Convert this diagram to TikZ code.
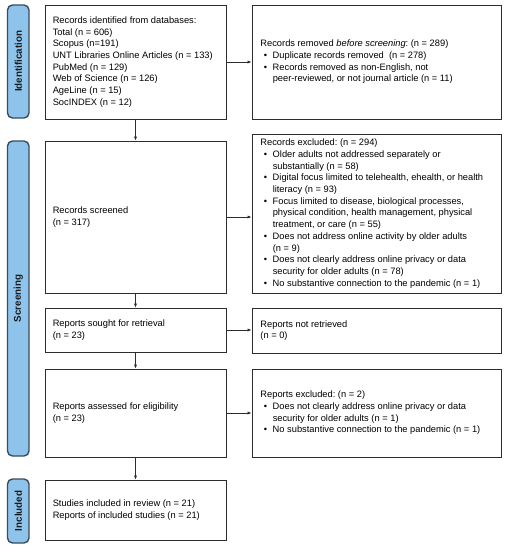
\documentclass[tikz,border=0pt]{standalone}
\usepackage{fontspec}
\setmainfont{Liberation Sans}
\usetikzlibrary{arrows.meta}
\definecolor{barblue}{RGB}{142,196,236}
\definecolor{barline}{RGB}{58,76,90}
\definecolor{boxline}{RGB}{45,45,45}
\newcommand{\bul}{\hspace*{3.3pt}\makebox[9pt][l]{•}}
\newcommand{\cont}{\hspace*{12.3pt}}
\frenchspacing
\begin{document}
\begin{tikzpicture}[x=1pt,y=-1pt,
  box/.style={draw=boxline, line width=0.9pt, fill=white, inner sep=0pt},
  lbox/.style={box, minimum width=181pt},
  rbox/.style={box, minimum width=249pt},
  txt/.style={anchor=west, inner sep=0pt, align=left, font=\fontsize{9.3}{11.7}\selectfont},
  bar/.style={draw=barline, line width=1.4pt, fill=barblue, rounded corners=5pt},
  bartext/.style={rotate=90, font=\bfseries\fontsize{9.8}{11}\selectfont, text=black!90},
  arr/.style={draw=boxline, line width=0.7pt, -{Latex[length=4pt,width=3.2pt]}}]
\useasboundingbox (0,0) rectangle (508,550);
% side bars
\draw[bar] (7.5,5) rectangle (29,118);
\node[bartext] (idt) at (18.25,61.5) {Identification};
\draw[bar] (7.5,141) rectangle (29,456);
\node[bartext] (scr) at (18.25,298.5) {Screening};
\draw[bar] (7.5,479) rectangle (29,543);
\node[bartext] (inc) at (18.25,511) {Included};
% left column
\node[lbox, minimum height=114pt] (L1) at (135.5,62) {};
\node[txt] (L1t) at ([xshift=8pt]L1.west) {Records identified from databases:\\
Total (n = 606)\\
Scopus (n=191)\\
UNT Libraries Online Articles (n = 133)\\
PubMed (n = 129)\\
Web of Science (n = 126)\\
AgeLine (n = 15)\\
SocINDEX (n = 12)};
\node[lbox, minimum height=152pt] (L2) at (135.5,217) {};
\node[txt] (L2t) at ([xshift=8pt]L2.west) {Records screened\\(n = 317)};
\node[lbox, minimum height=44pt] (L3) at (135.5,330) {};
\node[txt] (L3t) at ([xshift=8pt]L3.west) {Reports sought for retrieval\\(n = 23)};
\node[lbox, minimum height=88pt] (L4) at (135.5,413) {};
\node[txt] (L4t) at ([xshift=8pt]L4.west) {Reports assessed for eligibility\\(n = 23)};
\node[lbox, minimum height=60pt] (L5) at (135.5,510) {};
\node[txt] (L5t) at ([xshift=8pt]L5.west) {Studies included in review (n = 21)\\Reports of included studies (n = 21)};
% right column
\node[rbox, minimum height=114pt] (R1) at (376.5,62) {};
\node[txt] (R1t) at ([xshift=8.7pt]R1.west) {Records removed \textit{before screening}: (n = 289)\\
\bul Duplicate records removed~ (n = 278)\\
\bul Records removed as non-English, not\\
\cont peer-reviewed, or not journal article (n = 11)};
\node[rbox, minimum height=159pt] (R2) at (376.5,213.5) {};
\node[txt] (R2t) at ([xshift=8.7pt]R2.west) {Records excluded: (n = 294)\\
\bul Older adults not addressed separately or\\
\cont substantially (n = 58)\\
\bul Digital focus limited to telehealth, ehealth, or health\\
\cont literacy (n = 93)\\
\bul Focus limited to disease, biological processes,\\
\cont physical condition, health management, physical\\
\cont treatment, or care (n = 55)\\
\bul Does not address online activity by older adults\\
\cont (n = 9)\\
\bul Does not clearly address online privacy or data\\
\cont security for older adults (n = 78)\\
\bul No substantive connection to the pandemic (n = 1)};
\node[rbox, minimum height=45pt] (R3) at (376.5,330.5) {};
\node[txt] (R3t) at ([xshift=8.7pt]R3.west) {Reports not retrieved\\(n = 0)};
\node[rbox, minimum height=88pt] (R4) at (376.5,413) {};
\node[txt] (R4t) at ([xshift=8.7pt]R4.west) {Reports excluded: (n = 2)\\
\bul Does not clearly address online privacy or data\\
\cont security for older adults (n = 1)\\
\bul No substantive connection to the pandemic (n = 1)};
% arrows
\draw[arr] (L1) -- (L2);
\draw[arr] (L2) -- (L3);
\draw[arr] (L3) -- (L4);
\draw[arr] (L4) -- (L5);
\draw[arr] (L1.east) -- (L1.east -| R1.west);
\draw[arr] (L2.east) -- (L2.east -| R2.west);
\draw[arr] (L3.east) -- (L3.east -| R3.west);
\draw[arr] (L4.east) -- (L4.east -| R4.west);
\end{tikzpicture}
\end{document}
